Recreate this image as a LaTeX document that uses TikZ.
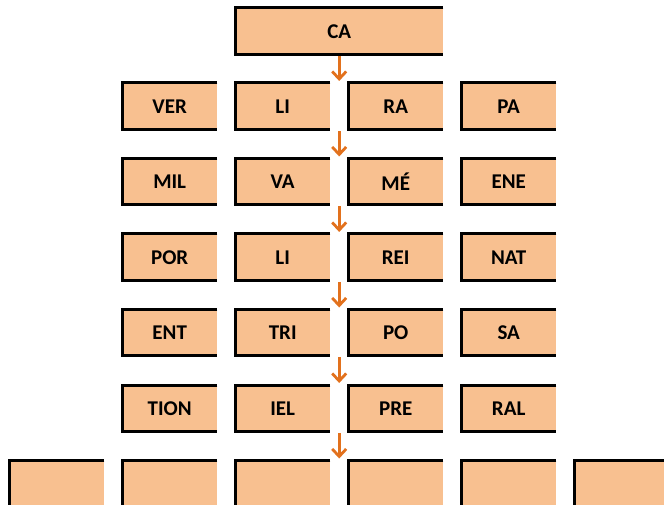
\documentclass[tikz,border=0pt]{standalone}
\usepackage{fontspec}
\setmainfont{Carlito}
\usetikzlibrary{arrows.meta,calc}
\definecolor{boxfill}{HTML}{F8C090}
\definecolor{arrcol}{HTML}{E2711D}
\tikzset{
  cell/.style={fill=boxfill, minimum height=46pt, inner sep=0pt, anchor=north west,
    font=\fontsize{21}{23}\selectfont\bfseries},
  edge/.style={line width=3pt, black},
  arr/.style={arrcol, line width=2.8pt, -{Straight Barb[length=7.5pt,width=14pt]}}
}
\newcommand\cellbox[5]{%
  \node[cell, minimum width=#4pt] (#1) at (#2pt,-#3pt) {#5};
  \draw[edge] (#1.north east) -- (#1.north west) -- (#1.south west) -- (#1.south east);
}
\begin{document}
\begin{tikzpicture}[x=1pt,y=1pt]
  \useasboundingbox (0,0) rectangle (664,-505);
  \clip (0,0) rectangle (664,-505);
  \cellbox{ca}{235}{8}{208}{CA}
  \foreach \r/\ytop/\a/\b/\c/\d in {1/83/VER/LI/RA/PA, 2/158.5/MIL/VA/MÉ/ENE,
      3/234/POR/LI/REI/NAT, 4/309.5/ENT/TRI/PO/SA, 5/385/TION/IEL/PRE/RAL}{
    \cellbox{r\r c1}{122}{\ytop}{95}{\a}
    \cellbox{r\r c2}{235}{\ytop}{95}{\b}
    \cellbox{r\r c3}{348}{\ytop}{95}{\c}
    \cellbox{r\r c4}{461}{\ytop}{95}{\d}
  }
  \foreach \i/\x in {0/9,1/122,2/235,3/348,4/461,5/574}{
    \cellbox{r6c\i}{\x}{460.5}{95}{}
  }
  % arrows
  \coordinate (e0) at ($(r1c2.north east)!0.5!(r1c3.north west)+(0,2)$);
  \coordinate (s0) at (e0 |- {$(ca.south)+(0,-1.5)$});
  \foreach \r/\n in {1/2,2/3,3/4,4/5,5/6}{
    \coordinate (s\r) at ($(r\r c2.south east)!0.5!(r\r c3.south west)+(0,-1.5)$);
  }
  \coordinate (e1) at ($(r2c2.north east)!0.5!(r2c3.north west)+(0,2)$);
  \coordinate (e2) at ($(r3c2.north east)!0.5!(r3c3.north west)+(0,2)$);
  \coordinate (e3) at ($(r4c2.north east)!0.5!(r4c3.north west)+(0,2)$);
  \coordinate (e4) at ($(r5c2.north east)!0.5!(r5c3.north west)+(0,2)$);
  \coordinate (e5) at ($(r6c2.north east)!0.5!(r6c3.north west)+(0,2)$);
  \draw[arr] (s0) -- (e0);
  \draw[arr] (s1) -- (e1);
  \draw[arr] (s2) -- (e2);
  \draw[arr] (s3) -- (e3);
  \draw[arr] (s4) -- (e4);
  \draw[arr] (s5) -- (e5);
\end{tikzpicture}
\end{document}
